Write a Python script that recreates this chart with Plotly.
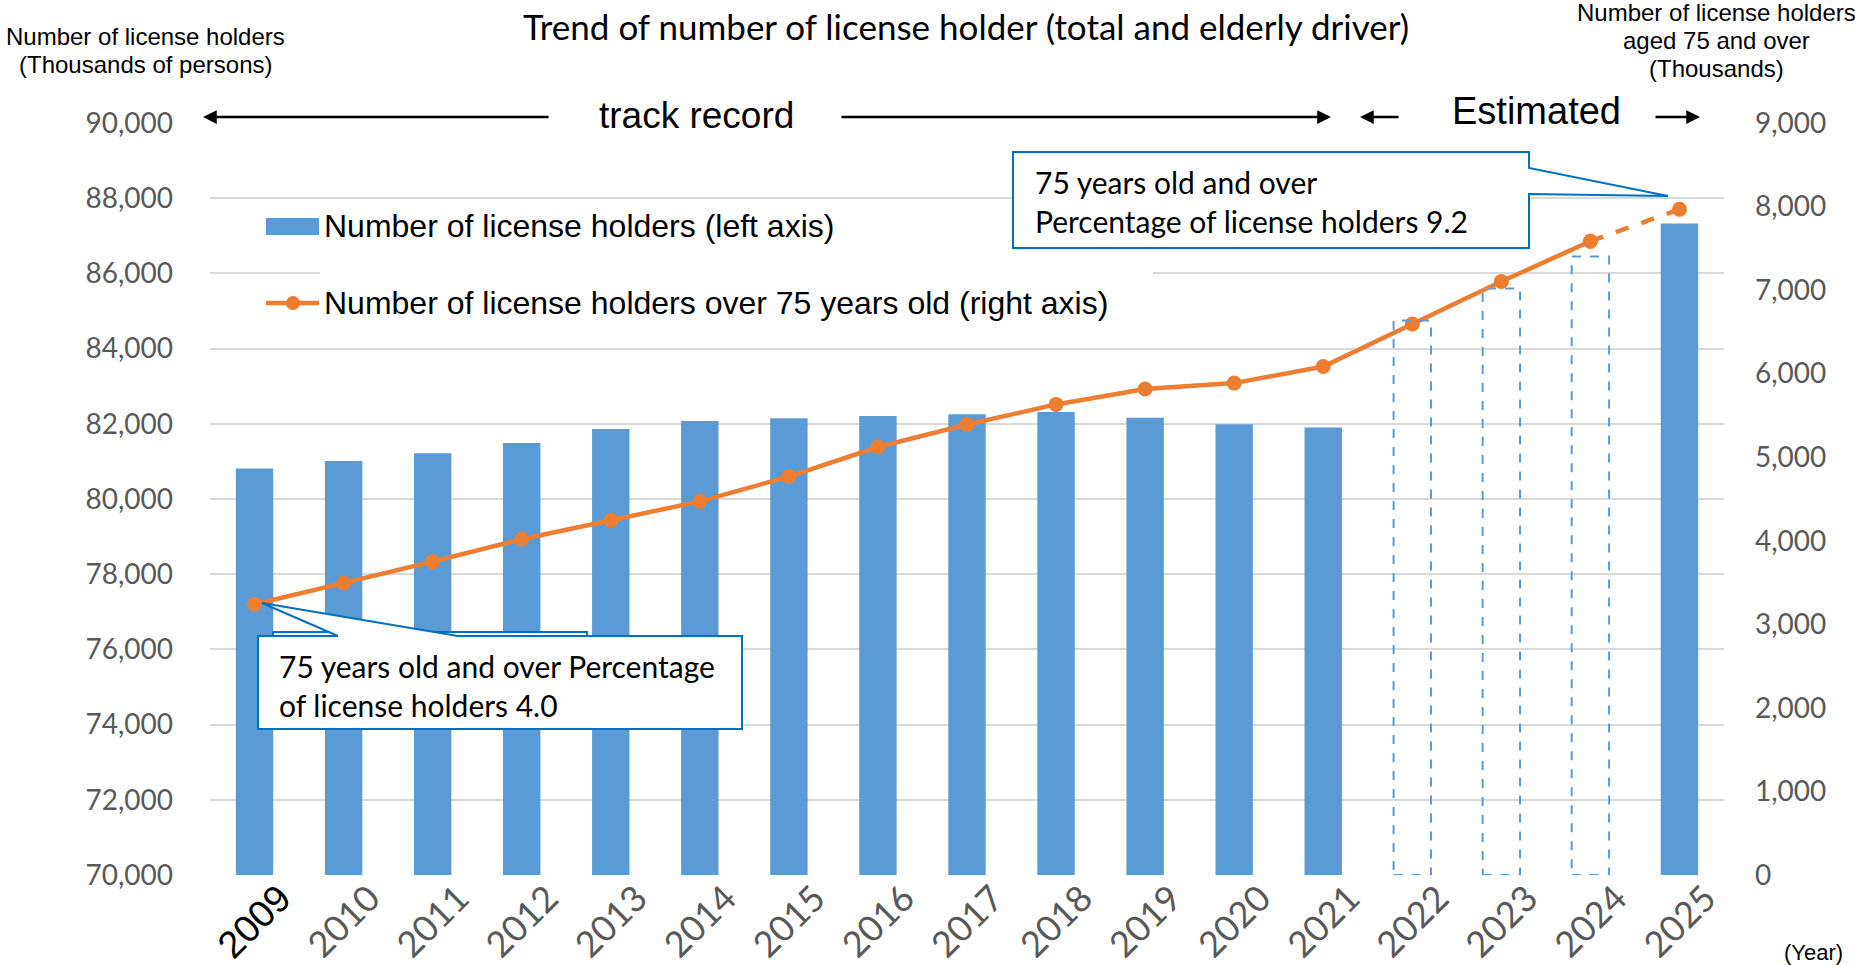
import plotly.graph_objects as go

# ---------------- data ----------------
years = ["2009", "2010", "2011", "2012", "2013", "2014", "2015", "2016", "2017",
         "2018", "2019", "2020", "2021", "2022", "2023", "2024", "2025"]

bar_years = ["2009", "2010", "2011", "2012", "2013", "2014", "2015", "2016", "2017",
             "2018", "2019", "2020", "2021", "2025"]
license_holders = [80811, 81010, 81215, 81488, 81860, 82076, 82150, 82205, 82255,
                   82315, 82158, 81990, 81899, 87330]

est_years = ["2022", "2023", "2024"]
est_holders = [84750, 85600, 86450]

elderly_holders = [3240, 3495, 3750, 4019, 4245, 4471, 4769, 5122, 5391,
                   5632, 5816, 5887, 6085, 6594, 7103, 7585, 7967]

left_ticks = [70000, 72000, 74000, 76000, 78000, 80000, 82000, 84000, 86000, 88000, 90000]
right_ticks = [0, 1000, 2000, 3000, 4000, 5000, 6000, 7000, 8000, 9000]

# ---------------- styling / layout constants ----------------
W, H = 1855, 965
L, R, T, B = 210, 131, 123, 90
PW, PH = W - L - R, H - T - B
BLUE = "#5B9BD5"
ORANGE = "#ED7D31"
CALLOUT = "#0070C0"
GRID = "#D9D9D9"
TICK = "#595959"
BAR_FRAC = 0.42


def px(x):
    return (x - L) / PW


def py(y):
    return (H - B - y) / PH


fig = go.Figure()

fig.add_trace(go.Bar(x=bar_years, y=license_holders, marker_color=BLUE,
                     marker_line_width=0, showlegend=False,
                     name="Number of license holders (left axis)"))

split = years.index("2024")
fig.add_trace(go.Scatter(x=years[:split + 1], y=elderly_holders[:split + 1],
                         mode="lines+markers", yaxis="y2", showlegend=False,
                         line=dict(color=ORANGE, width=4.5),
                         marker=dict(color=ORANGE, size=15),
                         name="Number of license holders over 75 years old (right axis)"))
fig.add_trace(go.Scatter(x=years[split:], y=elderly_holders[split:],
                         mode="lines+markers", yaxis="y2", showlegend=False,
                         line=dict(color=ORANGE, width=4.5, dash="dash"),
                         marker=dict(color=ORANGE, size=15)))

shapes = []
# dashed estimated bars
for yr, val in zip(est_years, est_holders):
    i = years.index(yr)
    shapes.append(dict(type="rect", xref="x", yref="y",
                       x0=i - BAR_FRAC / 2, x1=i + BAR_FRAC / 2,
                       y0=left_ticks[0], y1=val,
                       line=dict(color=BLUE, width=2, dash="dash"),
                       fillcolor="rgba(0,0,0,0)", layer="above"))

# white background behind the legend (covers gridline)
shapes.append(dict(type="rect", xref="paper", yref="paper",
                   x0=px(320), x1=px(1153), y0=py(335), y1=py(245),
                   fillcolor="white", line_width=0, layer="above"))

# legend swatches
shapes.append(dict(type="rect", xref="paper", yref="paper",
                   x0=px(266), x1=px(319), y0=py(235), y1=py(218),
                   fillcolor=BLUE, line_width=0, layer="above"))
shapes.append(dict(type="line", xref="paper", yref="paper",
                   x0=px(266), x1=px(319), y0=py(303), y1=py(303),
                   line=dict(color=ORANGE, width=4.5), layer="above"))
shapes.append(dict(type="circle", xref="paper", yref="paper",
                   x0=px(286), x1=px(300), y0=py(310), y1=py(296),
                   fillcolor=ORANGE, line_width=0, layer="above"))


def path(points):
    return "M " + " L ".join(f"{px(a):.5f},{py(b):.5f}" for a, b in points) + " Z"


# top-right callout
shapes.append(dict(type="path", xref="paper", yref="paper",
                   path=path([(1013, 152), (1529, 152), (1529, 168), (1668, 196),
                              (1529, 194), (1529, 248), (1013, 248)]),
                   fillcolor="white", line=dict(color=CALLOUT, width=2), layer="above"))

# bottom-left callout (shadow outline then main box)
shapes.append(dict(type="rect", xref="paper", yref="paper",
                   x0=px(273), x1=px(587), y0=py(700), y1=py(632),
                   fillcolor="white", line=dict(color=CALLOUT, width=2), layer="above"))
shapes.append(dict(type="path", xref="paper", yref="paper",
                   path=path([(258, 636), (338, 636), (262, 603), (458, 636),
                              (742, 636), (742, 729), (258, 729)]),
                   fillcolor="white", line=dict(color=CALLOUT, width=2), layer="above"))

ann = []


def text(x, y, s, size, family="Liberation Sans", color="black", xanchor="center",
         yanchor="middle"):
    ann.append(dict(x=px(x), y=py(y), xref="paper", yref="paper", text=s,
                    showarrow=False, xanchor=xanchor, yanchor=yanchor,
                    font=dict(family=family, size=size, color=color)))


def arrow(hx, tx, y):
    ann.append(dict(x=px(hx), y=py(y), xref="paper", yref="paper", text="",
                    showarrow=True, ax=tx - hx, ay=0, axref="pixel", ayref="pixel",
                    arrowhead=2, arrowsize=1.1, arrowwidth=2.5, arrowcolor="black",
                    standoff=0, startstandoff=0))


text(966, 26, "Trend of number of license holder (total and elderly driver)", 35, "Lato")
text(145, 36, "Number of license holders", 24)
text(145, 64, "(Thousands of persons)", 24)
text(1716, 12, "Number of license holders", 24)
text(1716, 40, "aged 75 and over", 24)
text(1716, 69, "(Thousands)", 24)
text(696, 116, "track record", 37)
text(1536, 111, "Estimated", 38)
arrow(203, 550, 117)
arrow(1331, 840, 117)
arrow(1360, 1400, 117)
arrow(1700, 1654, 117)

text(322, 226, "Number of license holders (left axis)", 32, xanchor="left")
text(322, 303, "Number of license holders over 75 years old (right axis)", 32, xanchor="left")

text(1033, 182, "75 years old and over", 30, "Lato", xanchor="left")
text(1033, 221, "Percentage of license holders 9.2", 30, "Lato", xanchor="left")
text(277, 666, "75 years old and over Percentage", 30, "Lato", xanchor="left")
text(277, 705, "of license holders 4.0", 30, "Lato", xanchor="left")

text(1782, 938, "(Year)", 22, xanchor="left", yanchor="top")

ticktext = ['<span style="color:black;font-family:Liberation Sans;font-size:38px">'
            + years[0] + "</span>"] + years[1:]

fig.update_layout(
    width=W, height=H,
    margin=dict(l=L, r=R, t=T, b=B, pad=0, autoexpand=False),
    paper_bgcolor="white", plot_bgcolor="white",
    bargap=1 - BAR_FRAC,
    showlegend=False,
    shapes=shapes, annotations=ann,
    xaxis=dict(type="category", categoryorder="array", categoryarray=years,
               range=[-0.5, len(years) - 0.5],
               tickvals=years, ticktext=ticktext, tickangle=-45, automargin=False,
               tickfont=dict(family="Lato", size=36, color=TICK),
               ticklabelshift=26, ticklabelstandoff=-6,
               showgrid=False, showline=False, ticks="", zeroline=False),
    yaxis=dict(range=[left_ticks[0], left_ticks[-1]], tickvals=left_ticks,
               tickformat=",", showgrid=True, gridcolor=GRID, gridwidth=2,
               automargin=False,
               tickfont=dict(family="Lato", size=28, color=TICK),
               zeroline=False, showline=False, ticks="", ticklabelstandoff=36),
    yaxis2=dict(range=[right_ticks[0], right_ticks[-1]], tickvals=right_ticks,
                tickformat=",", overlaying="y", side="right", showgrid=False,
                automargin=False,
                tickfont=dict(family="Lato", size=28, color=TICK),
                zeroline=False, showline=False, ticks="", ticklabelstandoff=30),
)

fig.write_html("out.html", config={"displayModeBar": False},
               post_script="document.body.style.margin='0';document.body.style.overflow='hidden';")
